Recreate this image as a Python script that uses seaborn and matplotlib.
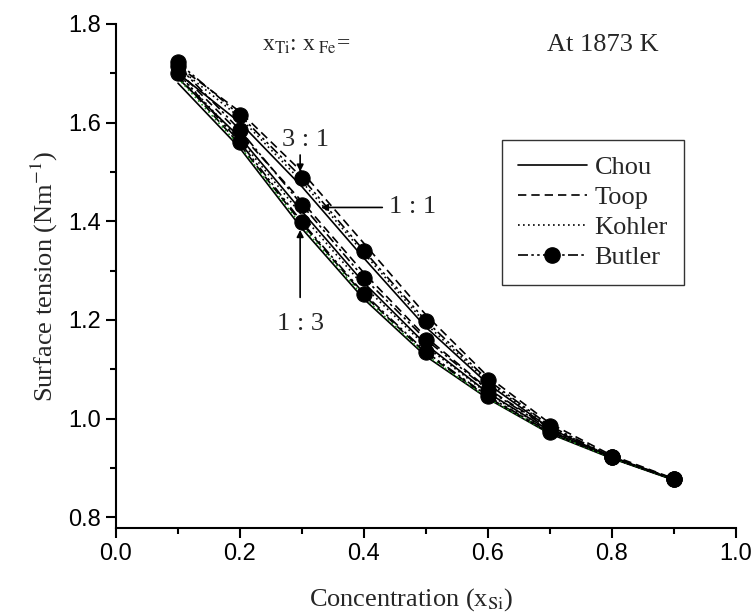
import numpy as np
import pandas as pd
import matplotlib
matplotlib.use("Agg")
import matplotlib.pyplot as plt
from matplotlib.lines import Line2D
import seaborn as sns

# ---- data ----
x_si = [0.1, 0.2, 0.3, 0.4, 0.5, 0.6, 0.7, 0.8, 0.9]
ratios = ["3:1", "1:1", "1:3"]
models = ["Chou", "Toop", "Kohler", "Butler"]

chou_31 = [1.700, 1.600, 1.470, 1.325, 1.185, 1.070, 0.980, 0.920, 0.876]
toop_31 = [1.715, 1.622, 1.500, 1.355, 1.210, 1.085, 0.990, 0.925, 0.878]
kohler_31 = [1.712, 1.610, 1.480, 1.335, 1.192, 1.074, 0.983, 0.921, 0.877]
butler_31 = [1.722, 1.615, 1.488, 1.340, 1.198, 1.078, 0.985, 0.922, 0.877]

chou_11 = [1.690, 1.570, 1.420, 1.275, 1.150, 1.052, 0.975, 0.920, 0.876]
toop_11 = [1.705, 1.578, 1.440, 1.295, 1.165, 1.060, 0.980, 0.922, 0.877]
kohler_11 = [1.700, 1.565, 1.412, 1.268, 1.146, 1.050, 0.974, 0.920, 0.876]
butler_11 = [1.715, 1.585, 1.433, 1.285, 1.160, 1.058, 0.978, 0.922, 0.877]

chou_13 = [1.680, 1.548, 1.385, 1.242, 1.126, 1.040, 0.969, 0.919, 0.875]
toop_13 = [1.695, 1.555, 1.395, 1.250, 1.132, 1.043, 0.971, 0.920, 0.876]
kohler_13 = [1.690, 1.552, 1.390, 1.246, 1.129, 1.041, 0.970, 0.920, 0.876]
butler_13 = [1.700, 1.560, 1.398, 1.253, 1.135, 1.045, 0.972, 0.921, 0.877]

series = {
    ("Chou", "3:1"): chou_31, ("Toop", "3:1"): toop_31,
    ("Kohler", "3:1"): kohler_31, ("Butler", "3:1"): butler_31,
    ("Chou", "1:1"): chou_11, ("Toop", "1:1"): toop_11,
    ("Kohler", "1:1"): kohler_11, ("Butler", "1:1"): butler_11,
    ("Chou", "1:3"): chou_13, ("Toop", "1:3"): toop_13,
    ("Kohler", "1:3"): kohler_13, ("Butler", "1:3"): butler_13,
}

rows = []
for (m, r), vals in series.items():
    for xv, yv in zip(x_si, vals):
        rows.append({"model": m, "ratio": r, "x": xv, "y": yv})
df = pd.DataFrame(rows)

# ---- style ----
sns.set_theme(style="ticks")
plt.rcParams["font.family"] = ["Liberation Sans", "DejaVu Sans"]
plt.rcParams["mathtext.fontset"] = "stix"
SERIF = ["Liberation Serif", "DejaVu Serif"]

styles = {
    "Chou": dict(ls="-", marker=None),
    "Toop": dict(ls=(0, (5, 3)), marker=None),
    "Kohler": dict(ls=(0, (1, 2)), marker=None),
    "Butler": dict(ls=(0, (6, 2, 1.5, 2, 1.5, 2)), marker="o"),
}

fig = plt.figure(figsize=(7.53, 6.16), dpi=100)
ax = fig.add_axes([116 / 753, 88 / 616, 620 / 753, 504 / 616])

for (m, r), vals in series.items():
    sub = df[(df.model == m) & (df.ratio == r)]
    color = "#1a8a1a" if (m == "Kohler" and r == "1:3") else "black"
    st = styles[m]
    sns.lineplot(data=sub, x="x", y="y", ax=ax, color=color, linestyle=st["ls"],
                 linewidth=1.2, marker=st["marker"], markersize=11,
                 markeredgecolor="black", markerfacecolor="black",
                 legend=False, zorder=3 if m == "Butler" else 2)

ax.set_xlim(0.0, 1.0)
ax.set_ylim(0.778, 1.8)
ax.set_xticks([0.0, 0.2, 0.4, 0.6, 0.8, 1.0])
ax.set_xticks(np.arange(0.1, 1.0, 0.2), minor=True)
ax.set_yticks([0.8, 1.0, 1.2, 1.4, 1.6, 1.8])
ax.set_yticks(np.arange(0.9, 1.8, 0.2), minor=True)
ax.set_xticklabels(["0.0", "0.2", "0.4", "0.6", "0.8", "1.0"])
ax.set_yticklabels(["0.8", "1.0", "1.2", "1.4", "1.6", "1.8"])
ax.tick_params(axis="both", which="major", direction="out", length=7, width=1.5,
               labelsize=17, color="black", labelcolor="black", pad=4)
ax.tick_params(axis="both", which="minor", direction="out", length=4, width=1.5,
               color="black")
for s in ["top", "right"]:
    ax.spines[s].set_visible(False)
for s in ["left", "bottom"]:
    ax.spines[s].set_linewidth(1.5)
    ax.spines[s].set_color("black")

ax.set_xlabel(r"Concentration (x$_{\mathrm{Si}}$)", fontsize=19, family=SERIF, labelpad=13)
ax.set_ylabel(r"Surface tension (Nm$^{\mathrm{-1}}$)", fontsize=19, family=SERIF, labelpad=6)
ax.xaxis.set_label_coords(0.477, -0.115)

# annotations
ax.text(0.235, 1.757, r"x$_{\mathrm{Ti}}$: x$_{\mathrm{\ Fe}}$=", fontsize=17, family=SERIF,
        ha="left", va="center")
ax.text(0.695, 1.757, "At 1873 K", fontsize=19, family=SERIF, ha="left", va="center")

ax.text(0.305, 1.565, "3 : 1", fontsize=19, family=SERIF, ha="center", va="center")
ax.annotate("", xy=(0.297, 1.495), xytext=(0.297, 1.540),
            arrowprops=dict(arrowstyle="-|>", color="black", lw=1.2, mutation_scale=10))
ax.text(0.440, 1.428, "1 : 1", fontsize=19, family=SERIF, ha="left", va="center")
ax.annotate("", xy=(0.326, 1.428), xytext=(0.434, 1.428),
            arrowprops=dict(arrowstyle="-|>", color="black", lw=1.2, mutation_scale=10))
ax.text(0.297, 1.192, "1 : 3", fontsize=19, family=SERIF, ha="center", va="center")
ax.annotate("", xy=(0.297, 1.388), xytext=(0.297, 1.240),
            arrowprops=dict(arrowstyle="-|>", color="black", lw=1.2, mutation_scale=10))

handles = [
    Line2D([], [], color="black", ls="-", lw=1.2),
    Line2D([], [], color="black", ls=(0, (5, 3)), lw=1.2),
    Line2D([], [], color="black", ls=(0, (1, 2)), lw=1.2),
    Line2D([], [], color="black", ls=(0, (6, 2, 1.5, 2, 1.5, 2)), lw=1.2,
           marker="o", markersize=11),
]
leg = ax.legend(handles, models, loc="upper left", bbox_to_anchor=(0.623, 0.77),
                prop={"family": SERIF, "size": 19}, frameon=True, fancybox=False,
                edgecolor="black", handlelength=2.6, handletextpad=0.3,
                labelspacing=0.25, borderpad=0.6, borderaxespad=0)
leg.get_frame().set_linewidth(1.0)

fig.savefig("out.png", dpi=100, facecolor="white")
